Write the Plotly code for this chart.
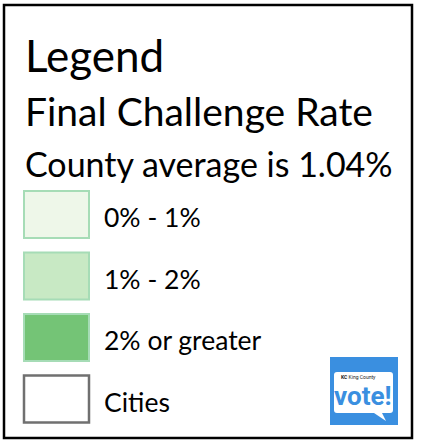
import plotly.graph_objects as go

# ---- data ----
title = "Legend"
subtitle = "Final Challenge Rate"
note = "County average is 1.04%"
labels = ["0% - 1%", "1% - 2%", "2% or greater", "Cities"]
fills = ["#eef7e9", "#c8e9c4", "#74c476", "#ffffff"]
outlines = ["#a6dcb6", "#a6dcb6", "#a6dcb6", "#707070"]

W, H = 423, 442
FONT = "Lato"

fig = go.Figure()
shapes = []
annotations = []

# outer frame
shapes.append(dict(type="rect", x0=4, y0=5, x1=412, y1=438,
                   line=dict(color="#000000", width=2.5), fillcolor="#ffffff", layer="below"))

annotations.append(dict(x=23, y=55, text=title, xanchor="left", yanchor="middle",
                        showarrow=False, font=dict(family=FONT, size=44, color="#000")))
annotations.append(dict(x=23, y=111, text=subtitle, xanchor="left", yanchor="middle",
                        showarrow=False, font=dict(family=FONT, size=39, color="#000")))
annotations.append(dict(x=23, y=163, text=note, xanchor="left", yanchor="middle",
                        showarrow=False, font=dict(family=FONT, size=34, color="#000")))

top0, step = 191, 61.5
for i, (lab, fc, lc) in enumerate(zip(labels, fills, outlines)):
    y0 = top0 + i * step
    shapes.append(dict(type="rect", x0=24, y0=y0, x1=89, y1=y0 + 47,
                       line=dict(color=lc, width=2.5 if i == 3 else 2), fillcolor=fc))
    annotations.append(dict(x=102, y=y0 + 26, text=lab, xanchor="left", yanchor="middle",
                            showarrow=False, font=dict(family=FONT, size=26.5, color="#000")))

# logo
shapes.append(dict(type="rect", x0=330, y0=357, x1=398, y1=425,
                   line=dict(width=0), fillcolor="#3a8fe0"))
shapes.append(dict(type="path",
                   path="M 337 372 L 390 372 Q 393 372 393 375 L 393 410 Q 393 413 390 413 "
                        "L 382 413 L 386 421 L 374 413 L 337 413 Q 334 413 334 410 L 334 375 Q 334 372 337 372 Z",
                   line=dict(width=0), fillcolor="#ffffff"))
annotations.append(dict(x=339, y=377, text="<b>KC</b> King County", xanchor="left", yanchor="middle",
                        showarrow=False, font=dict(family="Roboto", size=5, color="#222")))
annotations.append(dict(x=363, y=396, text="<b>vote!</b>", xanchor="center", yanchor="middle",
                        showarrow=False, font=dict(family="Roboto", size=26, color="#3a8fe0")))

fig.update_layout(
    width=W, height=H, margin=dict(l=0, r=0, t=0, b=0),
    paper_bgcolor="#ffffff", plot_bgcolor="#ffffff",
    xaxis=dict(range=[0, W], visible=False, fixedrange=True),
    yaxis=dict(range=[H, 0], visible=False, fixedrange=True),
    shapes=shapes, annotations=annotations, showlegend=False,
)
fig.write_html("out.html", config=dict(displayModeBar=False),
               post_script="document.body.style.margin='0';document.body.style.overflow='hidden';")
